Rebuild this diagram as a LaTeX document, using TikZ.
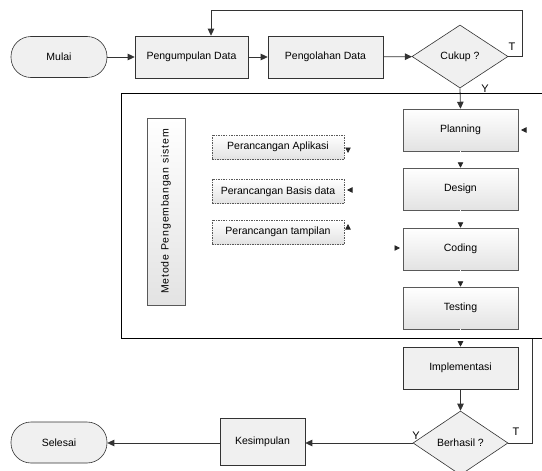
\documentclass[tikz,border=0pt]{standalone}
\usepackage{fontspec}
\setmainfont{Liberation Sans}
\usetikzlibrary{arrows.meta,shapes.geometric}
\begin{document}
\begin{tikzpicture}[x=1pt,y=-1pt,
  font=\fontsize{10.5}{12}\selectfont,
  arr/.style={-{Triangle[length=7pt,width=6.5pt]}, line width=0.8pt, draw=black!80},
  ghost/.style={draw=white, line width=0.8pt, -{Triangle[length=5.5pt,width=5.5pt,color=black!85]}},
  terminal/.style={draw=black!80, line width=0.6pt, fill=gray!12, rounded corners=20pt,
    minimum width=96pt, minimum height=41pt, inner sep=0pt},
  procbox/.style={draw=black!80, line width=0.6pt, fill=gray!12,
    minimum width=115pt, minimum height=42pt, inner sep=0pt},
  decision/.style={diamond, draw=black!80, line width=0.6pt, fill=gray!12,
    minimum width=96pt, minimum height=63pt, inner sep=0pt},
  stepbox/.style={draw=gray!70!black, line width=0.5pt, top color=white, bottom color=gray!22,
    minimum width=115pt, minimum height=42pt, inner sep=0pt},
  subbox/.style={draw=gray!70!black, line width=0.5pt, dash pattern=on 1.5pt off 1pt,
    top color=white, bottom color=gray!22, inner sep=0pt},
  sidebox/.style={draw=gray!70!black, line width=0.5pt,
    top color=white, bottom color=gray!22, inner sep=0pt},
  lbl/.style={font=\fontsize{11}{12}\selectfont, inner sep=0pt}
]
\useasboundingbox (0,0) rectangle (542,471);

% top row
\node[terminal] (mulai) at (59,57) {Mulai};
\node[procbox, minimum width=113pt] (kumpul) at (191.5,57) {Pengumpulan Data};
\node[procbox] (olah) at (325.5,57) {Pengolahan Data};
\node[decision] (cukup) at (460,56.5) {Cukup ?};

% development method steps
\node[stepbox] (plan) at (460.5,130) {Planning};
\node[stepbox] (design) at (460.5,189) {Design};
\node[stepbox] (coding) at (460.5,249) {Coding};
\node[stepbox] (testing) at (460.5,308) {Testing};

\node[sidebox, minimum width=187pt, minimum height=38pt, rotate=90] (metode) at (166,211.5)
  {\addfontfeatures{LetterSpace=8}Metode Pengembangan sistem};
\node[subbox, minimum width=132pt, minimum height=24pt] (apl) at (278,147) {Perancangan Aplikasi};
\node[subbox, minimum width=132pt, minimum height=24pt] (basis) at (278,191.5) {Perancangan Basis data};
\node[subbox, minimum width=132pt, minimum height=24pt] (tampil) at (278,232) {Perancangan tampilan};

% bottom part
\node[procbox] (impl) at (460.5,368) {Implementasi};
\node[decision, minimum width=95pt, minimum height=64pt] (hasil) at (460.5,443) {Berhasil ?};
\node[procbox, minimum width=85pt, minimum height=47pt] (simpul) at (262.5,441.5) {Kesimpulan};
\node[terminal] (selesai) at (59,442.5) {Selesai};

% helper points for the loops
\coordinate (loopR) at (522,10);
\coordinate (loopL) at (211,10);
\coordinate (retT) at (532,338);

% connectors
\draw[arr] (mulai) -- (kumpul);
\draw[arr] (kumpul) -- (olah);
\draw[arr] (olah) -- (cukup);
\draw[arr] (cukup.east) -| (loopR) -- (loopL) -- (kumpul.north -| loopL);
\draw[arr] (cukup.south) -- (plan.north);
\draw[ghost] (plan) -- (design);
\draw[ghost] (design) -- (coding);
\draw[ghost] (coding) -- (testing);
\draw[ghost] (testing) -- (impl);
\draw[arr] (impl) -- (hasil);
\draw[arr] (hasil.west) -- (hasil.west -| simpul.east);
\draw[arr] (simpul.west |- hasil.west) -- (hasil.west -| selesai.east);
\draw[line width=0.8pt, draw=black!80] (hasil.east) -| (retT);

% loose connector ends
\draw[ghost] (348,146) -- (348,153);
\draw[ghost] (355,190) -- (347,190);
\draw[ghost] (348,231) -- (348,224);
\draw[ghost] (392,248) -- (400,248);
\draw[ghost] (529,130) -- (521,130);

% frame around the development stage
\draw[line width=1pt] (542,93) -- (121,93) -- (121,338) -- (542,338);

% branch labels
\node[lbl] at (512,47) {T};
\node[lbl] at (485,89) {Y};
\node[lbl] at (516,432) {T};
\node[lbl] at (416,436) {Y};
\end{tikzpicture}
\end{document}
